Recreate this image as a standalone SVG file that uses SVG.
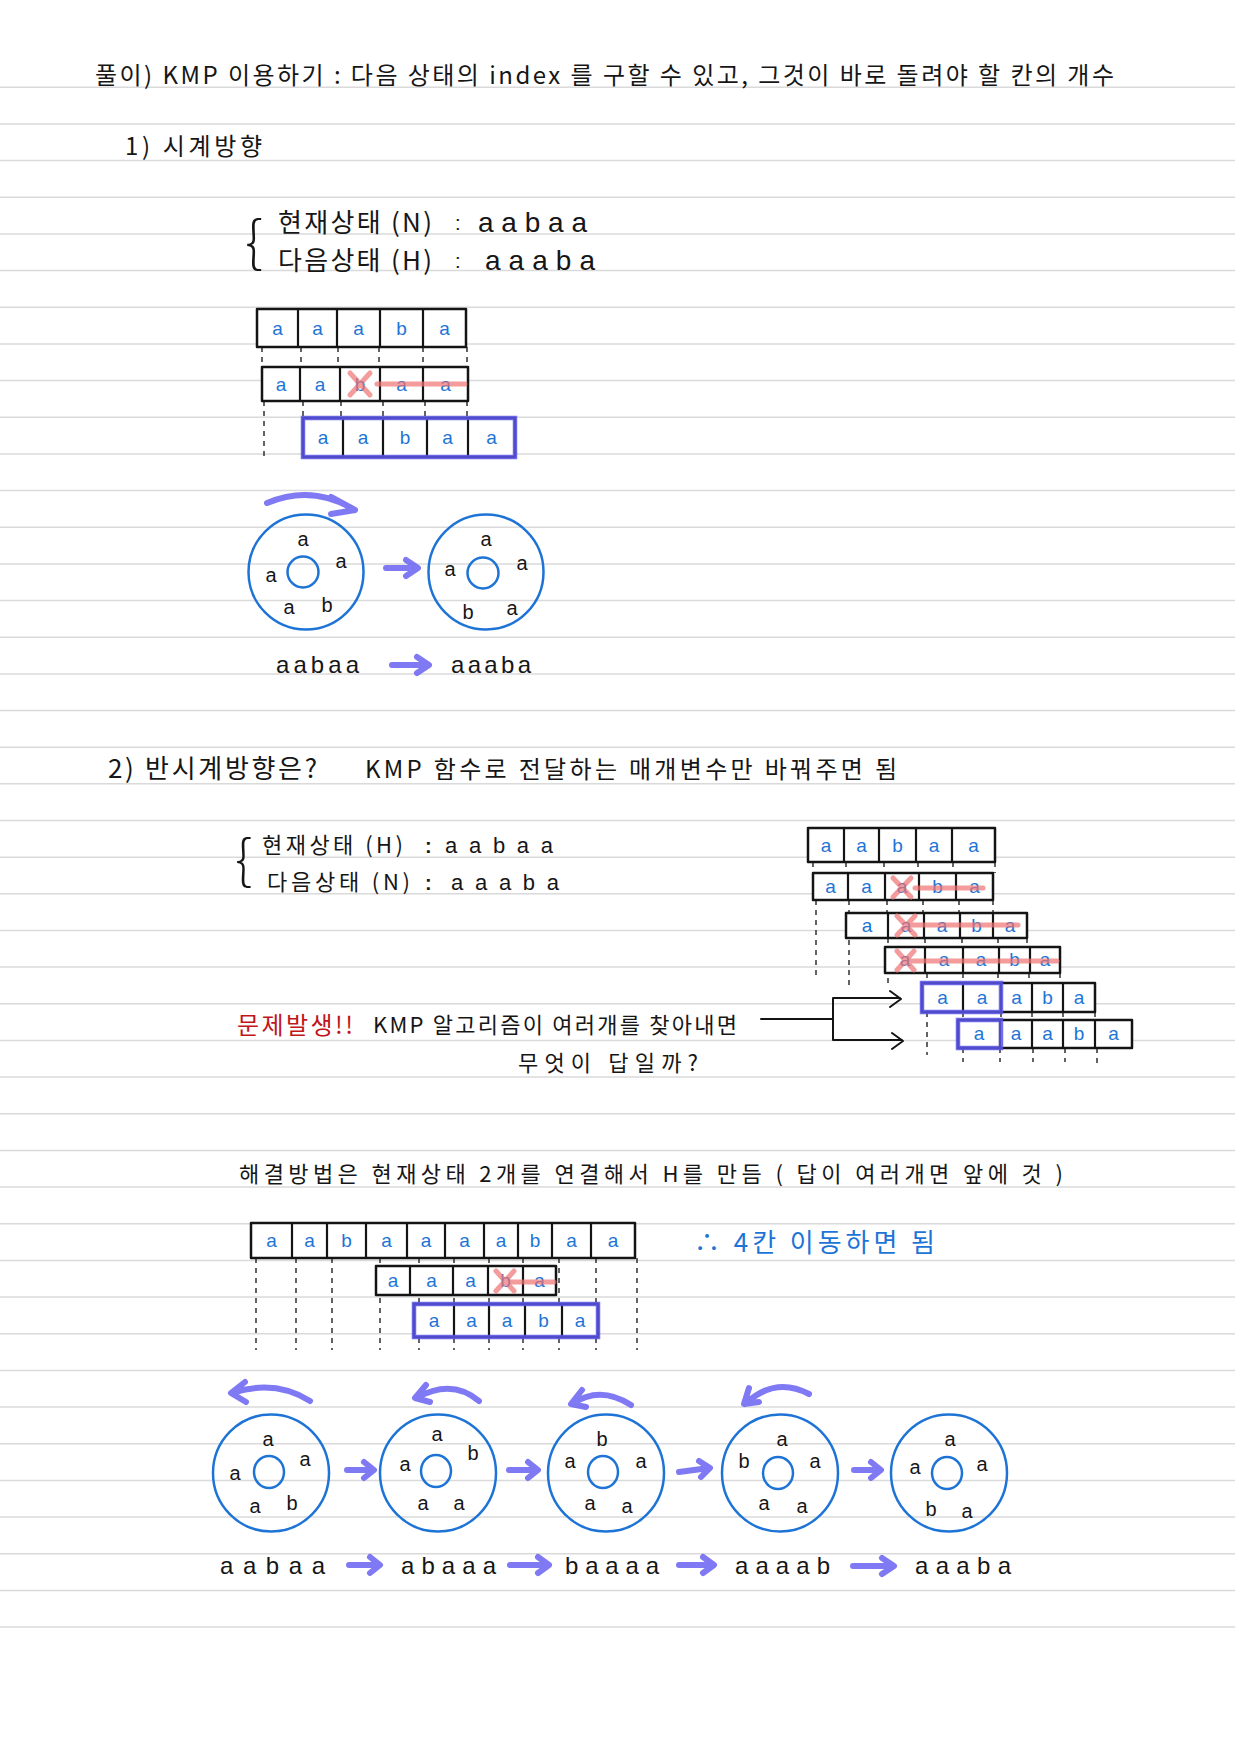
<svg xmlns="http://www.w3.org/2000/svg" width="1235" height="1746" viewBox="0 0 1235 1746">
<style>
.ln{stroke:#dadada;stroke-width:1.5}
.t{font-family:"Noto Sans CJK KR","Noto Sans",sans-serif;fill:#161616}
.e{font-family:"Liberation Sans","Noto Sans",sans-serif;fill:#161616}
.box{fill:#fff;stroke:#141414;stroke-width:2.5;stroke-linejoin:round}
.dv{stroke:#141414;stroke-width:2.2}
.dot{stroke:#222;stroke-width:1.4;stroke-dasharray:5 5;fill:none}
.bl{font-family:"Liberation Sans","Noto Sans",sans-serif;fill:#1e74d6;font-size:19px;text-anchor:middle}
.ck{font-family:"Liberation Sans","Noto Sans",sans-serif;fill:#161616;font-size:20px;text-anchor:middle}
.cir{fill:none;stroke:#1e74d6;stroke-width:2.5}
.pa{stroke:#6a62f2;stroke-width:6;fill:none;stroke-linecap:round;stroke-linejoin:round;opacity:.85}
.rx{stroke:#f07070;stroke-width:5;fill:none;stroke-linecap:round;opacity:.7}
.hl{fill:none;stroke:#5b55e8;stroke-width:4.5;opacity:.85}
.ar{stroke:#141414;stroke-width:2;fill:none;stroke-linecap:round;stroke-linejoin:round}
</style>
<rect width="1235" height="1746" fill="#fff"/>
<g id="ruled">
<line class="ln" x1="0" x2="1235" y1="87.3" y2="87.3"/><line class="ln" x1="0" x2="1235" y1="124" y2="124"/><line class="ln" x1="0" x2="1235" y1="160.6" y2="160.6"/><line class="ln" x1="0" x2="1235" y1="197.3" y2="197.3"/><line class="ln" x1="0" x2="1235" y1="233.9" y2="233.9"/><line class="ln" x1="0" x2="1235" y1="270.6" y2="270.6"/><line class="ln" x1="0" x2="1235" y1="307.3" y2="307.3"/><line class="ln" x1="0" x2="1235" y1="343.9" y2="343.9"/><line class="ln" x1="0" x2="1235" y1="380.6" y2="380.6"/><line class="ln" x1="0" x2="1235" y1="417.2" y2="417.2"/><line class="ln" x1="0" x2="1235" y1="453.9" y2="453.9"/><line class="ln" x1="0" x2="1235" y1="490.6" y2="490.6"/><line class="ln" x1="0" x2="1235" y1="527.2" y2="527.2"/><line class="ln" x1="0" x2="1235" y1="563.9" y2="563.9"/><line class="ln" x1="0" x2="1235" y1="600.5" y2="600.5"/><line class="ln" x1="0" x2="1235" y1="637.2" y2="637.2"/><line class="ln" x1="0" x2="1235" y1="673.9" y2="673.9"/><line class="ln" x1="0" x2="1235" y1="710.5" y2="710.5"/><line class="ln" x1="0" x2="1235" y1="747.2" y2="747.2"/><line class="ln" x1="0" x2="1235" y1="783.8" y2="783.8"/><line class="ln" x1="0" x2="1235" y1="820.5" y2="820.5"/><line class="ln" x1="0" x2="1235" y1="857.2" y2="857.2"/><line class="ln" x1="0" x2="1235" y1="893.8" y2="893.8"/><line class="ln" x1="0" x2="1235" y1="930.5" y2="930.5"/><line class="ln" x1="0" x2="1235" y1="967.1" y2="967.1"/><line class="ln" x1="0" x2="1235" y1="1003.8" y2="1003.8"/><line class="ln" x1="0" x2="1235" y1="1040.5" y2="1040.5"/><line class="ln" x1="0" x2="1235" y1="1077.1" y2="1077.1"/><line class="ln" x1="0" x2="1235" y1="1113.8" y2="1113.8"/><line class="ln" x1="0" x2="1235" y1="1150.4" y2="1150.4"/><line class="ln" x1="0" x2="1235" y1="1187.1" y2="1187.1"/><line class="ln" x1="0" x2="1235" y1="1223.8" y2="1223.8"/><line class="ln" x1="0" x2="1235" y1="1260.4" y2="1260.4"/><line class="ln" x1="0" x2="1235" y1="1297.1" y2="1297.1"/><line class="ln" x1="0" x2="1235" y1="1333.7" y2="1333.7"/><line class="ln" x1="0" x2="1235" y1="1370.4" y2="1370.4"/><line class="ln" x1="0" x2="1235" y1="1407.1" y2="1407.1"/><line class="ln" x1="0" x2="1235" y1="1443.7" y2="1443.7"/><line class="ln" x1="0" x2="1235" y1="1480.4" y2="1480.4"/><line class="ln" x1="0" x2="1235" y1="1517" y2="1517"/><line class="ln" x1="0" x2="1235" y1="1553.7" y2="1553.7"/><line class="ln" x1="0" x2="1235" y1="1590.4" y2="1590.4"/><line class="ln" x1="0" x2="1235" y1="1627" y2="1627"/>
</g>

<g id="texts">
<text class="t" x="95" y="84" font-size="24" textLength="1019" lengthAdjust="spacing">풀이) KMP 이용하기 : 다음 상태의 index 를 구할 수 있고, 그것이 바로 돌려야 할 칸의 개수</text>
<text class="t" x="125" y="155" font-size="24" textLength="137" lengthAdjust="spacing">1) 시계방향</text>
<text class="t" x="245" y="262" font-size="56" font-weight="200">{</text>
<text class="t" x="278" y="232" font-size="26" textLength="154" lengthAdjust="spacing">현재상태 (N)</text>
<text class="e" x="455" y="230" font-size="20">:</text>
<text class="e" x="478" y="232" font-size="28" textLength="109" lengthAdjust="spacing">aabaa</text>
<text class="t" x="278" y="270" font-size="26" textLength="154" lengthAdjust="spacing">다음상태 (H)</text>
<text class="e" x="455" y="268" font-size="20">:</text>
<text class="e" x="485" y="270" font-size="28" textLength="110" lengthAdjust="spacing">aaaba</text>
<text class="e" x="276" y="673" font-size="24" textLength="83" lengthAdjust="spacing">aabaa</text>
<text class="e" x="451" y="673" font-size="24" textLength="80" lengthAdjust="spacing">aaaba</text>

<text class="t" x="108" y="778" font-size="26" textLength="209" lengthAdjust="spacing">2) 반시계방향은?</text>
<text class="t" x="365" y="778" font-size="24" textLength="532" lengthAdjust="spacing">KMP 함수로 전달하는 매개변수만  바꿔주면 됨</text>
<text class="t" x="235" y="879" font-size="54" font-weight="200">{</text>
<text class="t" x="262" y="853" font-size="22" textLength="141" lengthAdjust="spacing">현재상태 (H)</text>
<text class="e" x="425" y="853" font-size="20" font-weight="bold">:</text>
<text class="e" x="445" y="853" font-size="22" textLength="108" lengthAdjust="spacing">aabaa</text>
<text class="t" x="267" y="890" font-size="22" textLength="143" lengthAdjust="spacing">다음상태 (N)</text>
<text class="e" x="425" y="890" font-size="20" font-weight="bold">:</text>
<text class="e" x="451" y="890" font-size="22" textLength="108" lengthAdjust="spacing">aaaba</text>

<text class="t" x="237" y="1034" font-size="24" style="fill:#c0151a" textLength="116" lengthAdjust="spacing">문제발생!!</text>
<text class="t" x="373" y="1033" font-size="22" textLength="364" lengthAdjust="spacing">KMP 알고리즘이  여러개를  찾아내면</text>
<text class="t" x="518" y="1071" font-size="22" textLength="180" lengthAdjust="spacing">무엇이  답일까?</text>

<text class="t" x="239" y="1182" font-size="22" textLength="824" lengthAdjust="spacing">해결방법은  현재상태  2개를  연결해서  H를  만듬 ( 답이 여러개면  앞에 것 )</text>
<text class="t" x="694" y="1252" font-size="26" style="fill:#1e74d6" textLength="241" lengthAdjust="spacing">∴ 4칸 이동하면 됨</text>

<text class="e" x="220" y="1574" font-size="24" textLength="105" lengthAdjust="spacing">aabaa</text>
<text class="e" x="401" y="1574" font-size="24" textLength="95" lengthAdjust="spacing">abaaa</text>
<text class="e" x="565" y="1574" font-size="24" textLength="94" lengthAdjust="spacing">baaaa</text>
<text class="e" x="735" y="1574" font-size="24" textLength="95" lengthAdjust="spacing">aaaab</text>
<text class="e" x="915" y="1574" font-size="24" textLength="96" lengthAdjust="spacing">aaaba</text>
</g>

<g id="connectors">
<path class="dot" d="M262,347V367M301,347V367M338,347V367M379,347V367M423,347V367M467,347V367"/>
<path class="dot" d="M264,401V458M303,401V418M341,401V418M383,401V418M425,401V418M467,401V418"/>
<path class="dot" d="M813,862V873M846,862V873M884,862V873M918,862V873M953,862V873M995,862V873"/>
<path class="dot" d="M816,900V980M849,900V985M887,900V913M923,900V913M959,900V913M993,900V913"/>
<path class="dot" d="M888,938V985M925,938V947M962,938V947M998,938V947M1027,938V947"/>
<path class="dot" d="M927,973V983M963,973V983M998,973V983M1029,973V983M1060,973V983"/>
<path class="dot" d="M927,1012V1055M963,1012V1020M1001,1012V1020M1032,1012V1020M1063,1012V1020M1095,1012V1020"/>
<path class="dot" d="M963,1048V1062M1000,1048V1062M1033,1048V1062M1065,1048V1062M1097,1048V1066"/>
<path class="dot" d="M256,1258V1350M296,1258V1350M332,1258V1350M380,1258V1350M419,1258V1350M454,1258V1350M489,1258V1350M523,1258V1350M559,1258V1350M596,1258V1350M637,1258V1350"/>
<path class="ar" d="M761,1019H833M833,998V1040M833,998H900M833,1040H902M890,991L901,999L890,1007M892,1033L903,1041L892,1049"/>
<path class="pa" d="M267,503Q312,484 355,510M331,497L355,510L331,514"/>
<path class="pa" d="M386,568H417M406,560L418,568L406,576"/>
<path class="pa" d="M392,665H428M417,657L429,665L417,673"/>
<path class="pa" d="M310,1401Q275,1379 232,1393M245,1382L231,1393L246,1402"/>
<path class="pa" d="M479,1401Q452,1378 416,1398M426,1385L415,1398L430,1402"/>
<path class="pa" d="M631,1405Q600,1385 572,1404M582,1390L571,1404L586,1407"/>
<path class="pa" d="M809,1394Q775,1376 745,1404M749,1388L744,1404L759,1402"/>
<path class="pa" d="M347,1470H373M364,1462L374,1470L364,1478"/>
<path class="pa" d="M509,1470H537M528,1462L538,1470L528,1478"/>
<path class="pa" d="M679,1472L709,1468M699,1461L710,1468L701,1477"/>
<path class="pa" d="M854,1470H880M871,1462L881,1470L871,1478"/>
<path class="pa" d="M349,1565H379M370,1557L380,1565L370,1573"/>
<path class="pa" d="M510,1565H548M538,1557L549,1565L538,1573"/>
<path class="pa" d="M679,1565H713M703,1557L714,1565L703,1573"/>
<path class="pa" d="M853,1566H893M882,1558L894,1566L882,1574"/>
</g>

<g id="boxes-s1">
<g id="s1-row1">
<rect class="box" x="257" y="309" width="209" height="38"/>
<path class="dv" d="M298,309V347M337,309V347M380,309V347M423,309V347"/>
<text class="bl" x="277.5" y="335">a</text><text class="bl" x="317.5" y="335">a</text><text class="bl" x="358.5" y="335">a</text><text class="bl" x="401.5" y="335">b</text><text class="bl" x="444.5" y="335">a</text>
</g>
<g id="s1-row2">
<rect class="box" x="262" y="367" width="206" height="34"/>
<path class="dv" d="M300,367V401M340,367V401M380,367V401M423,367V401"/>
<text class="bl" x="281" y="391">a</text><text class="bl" x="320" y="391">a</text><text class="bl" x="360" y="391">b</text><text class="bl" x="401.5" y="391">a</text><text class="bl" x="445.5" y="391">a</text>
<path class="rx" d="M350,373L370,395M370,373L350,395M377,384H465"/>
</g>
<g id="s1-row3">
<rect class="box" x="303" y="418" width="212" height="39"/>
<path class="dv" d="M343,418V457M383,418V457M427,418V457M468,418V457"/>
<text class="bl" x="323" y="444">a</text><text class="bl" x="363" y="444">a</text><text class="bl" x="405" y="444">b</text><text class="bl" x="447.5" y="444">a</text><text class="bl" x="491.5" y="444">a</text>
<rect class="hl" x="303" y="418" width="212" height="39"/>
</g>
</g>

<g id="circles-s1">
<g id="s1-c1">
<circle class="cir" cx="306" cy="572" r="57.5"/><circle class="cir" cx="303" cy="572" r="15.5"/>
<text class="ck" x="303" y="546">a</text><text class="ck" x="341" y="568">a</text><text class="ck" x="271" y="582">a</text><text class="ck" x="289" y="614">a</text><text class="ck" x="327" y="612">b</text>
</g>
<g id="s1-c2">
<circle class="cir" cx="486" cy="572" r="57.5"/><circle class="cir" cx="483" cy="573" r="15.5"/>
<text class="ck" x="486" y="546">a</text><text class="ck" x="522" y="570">a</text><text class="ck" x="450" y="576">a</text><text class="ck" x="468" y="619">b</text><text class="ck" x="512" y="615">a</text>
</g>
</g>

<g id="boxes-s2">
<g id="s2-r1">
<rect class="box" x="808" y="828" width="187" height="34"/>
<path class="dv" d="M844,828V862M879,828V862M916,828V862M952,828V862"/>
<text class="bl" x="826" y="852">a</text><text class="bl" x="861.5" y="852">a</text><text class="bl" x="897.5" y="852">b</text><text class="bl" x="934" y="852">a</text><text class="bl" x="973.5" y="852">a</text>
</g>
<g id="s2-r2">
<rect class="box" x="813" y="873" width="180" height="27"/>
<path class="dv" d="M848,873V900M885,873V900M919,873V900M956,873V900"/>
<text class="bl" x="830.5" y="893">a</text><text class="bl" x="866.5" y="893">a</text><text class="bl" x="902" y="893">a</text><text class="bl" x="937.5" y="893">b</text><text class="bl" x="974.5" y="893">a</text>
<path class="rx" d="M893,878L911,897M911,878L893,897M915,888H983"/>
</g>
<g id="s2-r3">
<rect class="box" x="846" y="913" width="181" height="25"/>
<path class="dv" d="M888,913V938M924,913V938M960,913V938M993,913V938"/>
<text class="bl" x="867" y="932">a</text><text class="bl" x="906" y="932">a</text><text class="bl" x="942" y="932">a</text><text class="bl" x="976.5" y="932">b</text><text class="bl" x="1010" y="932">a</text>
<path class="rx" d="M897,916L915,935M915,916L897,935M907,925H1018"/>
</g>
<g id="s2-r4">
<rect class="box" x="885" y="947" width="175" height="26"/>
<path class="dv" d="M925,947V973M963,947V973M999,947V973M1030,947V973"/>
<text class="bl" x="905" y="966">a</text><text class="bl" x="944" y="966">a</text><text class="bl" x="981" y="966">a</text><text class="bl" x="1014.5" y="966">b</text><text class="bl" x="1045" y="966">a</text>
<path class="rx" d="M897,951L914,970M914,951L897,970M907,961H1057"/>
</g>
<g id="s2-r5">
<rect class="box" x="922" y="983" width="173" height="29"/>
<path class="dv" d="M963,983V1012M1001,983V1012M1032,983V1012M1063,983V1012"/>
<text class="bl" x="942.5" y="1004">a</text><text class="bl" x="982" y="1004">a</text><text class="bl" x="1016.5" y="1004">a</text><text class="bl" x="1047.5" y="1004">b</text><text class="bl" x="1079" y="1004">a</text>
<rect class="hl" x="922" y="983" width="79" height="29"/>
</g>
<g id="s2-r6">
<rect class="box" x="958" y="1020" width="174" height="28"/>
<path class="dv" d="M1000,1020V1048M1032,1020V1048M1063,1020V1048M1095,1020V1048"/>
<text class="bl" x="979" y="1040">a</text><text class="bl" x="1016" y="1040">a</text><text class="bl" x="1047.5" y="1040">a</text><text class="bl" x="1079" y="1040">b</text><text class="bl" x="1113.5" y="1040">a</text>
<rect class="hl" x="958" y="1020" width="43" height="28"/>
</g>
</g>

<g id="boxes-s3">
<g id="s3-r1">
<rect class="box" x="251" y="1223" width="384" height="35"/>
<path class="dv" d="M292,1223V1258M327,1223V1258M366,1223V1258M407,1223V1258M445,1223V1258M484,1223V1258M518,1223V1258M552,1223V1258M591,1223V1258"/>
<text class="bl" x="271.5" y="1247">a</text><text class="bl" x="309.5" y="1247">a</text><text class="bl" x="346.5" y="1247">b</text><text class="bl" x="386.5" y="1247">a</text><text class="bl" x="426" y="1247">a</text><text class="bl" x="464.5" y="1247">a</text><text class="bl" x="501" y="1247">a</text><text class="bl" x="535" y="1247">b</text><text class="bl" x="571.5" y="1247">a</text><text class="bl" x="613" y="1247">a</text>
</g>
<g id="s3-r2">
<rect class="box" x="376" y="1266" width="180" height="29"/>
<path class="dv" d="M410,1266V1295M453,1266V1295M488,1266V1295M523,1266V1295"/>
<text class="bl" x="393" y="1287">a</text><text class="bl" x="431.5" y="1287">a</text><text class="bl" x="470.5" y="1287">a</text><text class="bl" x="505.5" y="1287">b</text><text class="bl" x="539.5" y="1287">a</text>
<path class="rx" d="M496,1271L514,1291M514,1271L496,1291M510,1282H554"/>
</g>
<g id="s3-r3">
<rect class="box" x="414" y="1304" width="184" height="33"/>
<path class="dv" d="M454,1304V1337M489,1304V1337M525,1304V1337M562,1304V1337"/>
<text class="bl" x="434" y="1327">a</text><text class="bl" x="471.5" y="1327">a</text><text class="bl" x="507" y="1327">a</text><text class="bl" x="543.5" y="1327">b</text><text class="bl" x="580" y="1327">a</text>
<rect class="hl" x="414" y="1304" width="184" height="33"/>
</g>
</g>

<g id="circles-s3">
<g id="s3-c1">
<ellipse class="cir" cx="271" cy="1473" rx="58" ry="58.5"/><ellipse class="cir" cx="269" cy="1472" rx="15" ry="16"/>
<text class="ck" x="268" y="1446">a</text><text class="ck" x="305" y="1466">a</text><text class="ck" x="235" y="1480">a</text><text class="ck" x="255" y="1513">a</text><text class="ck" x="292" y="1510">b</text>
</g>
<g id="s3-c2">
<ellipse class="cir" cx="438" cy="1473" rx="58" ry="58.5"/><ellipse class="cir" cx="436" cy="1471" rx="15" ry="16"/>
<text class="ck" x="437" y="1441">a</text><text class="ck" x="473" y="1460">b</text><text class="ck" x="405" y="1471">a</text><text class="ck" x="423" y="1510">a</text><text class="ck" x="459" y="1510">a</text>
</g>
<g id="s3-c3">
<ellipse class="cir" cx="606" cy="1473" rx="58" ry="58.5"/><ellipse class="cir" cx="603" cy="1472" rx="15" ry="16"/>
<text class="ck" x="602" y="1446">b</text><text class="ck" x="641" y="1468">a</text><text class="ck" x="570" y="1468">a</text><text class="ck" x="590" y="1510">a</text><text class="ck" x="627" y="1513">a</text>
</g>
<g id="s3-c4">
<ellipse class="cir" cx="780" cy="1473" rx="58" ry="58.5"/><ellipse class="cir" cx="778" cy="1473" rx="15" ry="16"/>
<text class="ck" x="782" y="1446">a</text><text class="ck" x="815" y="1468">a</text><text class="ck" x="744" y="1468">b</text><text class="ck" x="764" y="1510">a</text><text class="ck" x="802" y="1513">a</text>
</g>
<g id="s3-c5">
<ellipse class="cir" cx="949" cy="1473" rx="58" ry="58.5"/><ellipse class="cir" cx="947" cy="1473" rx="15" ry="16"/>
<text class="ck" x="950" y="1446">a</text><text class="ck" x="982" y="1471">a</text><text class="ck" x="915" y="1474">a</text><text class="ck" x="931" y="1516">b</text><text class="ck" x="967" y="1518">a</text>
</g>
</g>
</svg>
